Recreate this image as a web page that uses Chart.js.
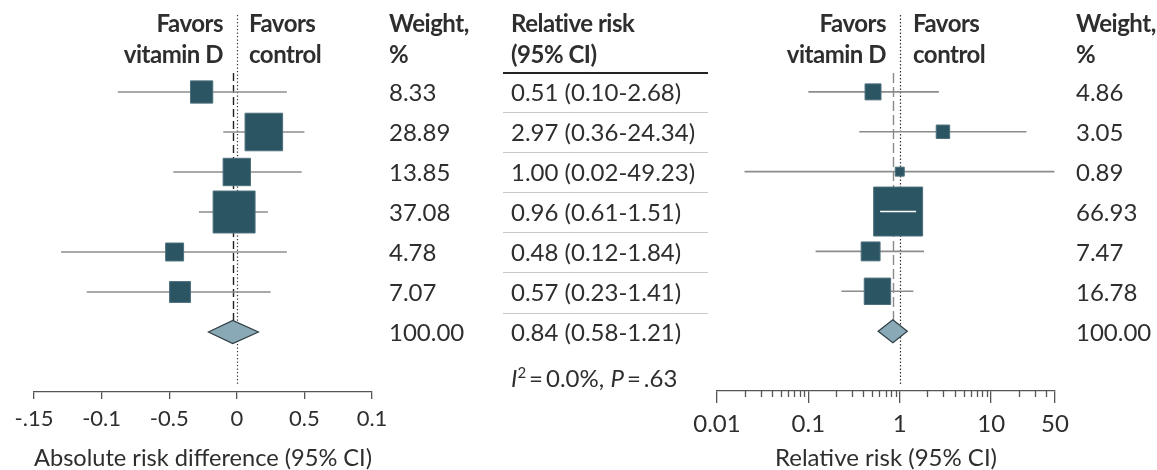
<!DOCTYPE html>
<html>
<head>
<meta charset="utf-8">
<script src="https://cdn.jsdelivr.net/npm/chart.js@4.4.1/dist/chart.umd.min.js"></script>
<style>
  body { margin: 0; background: #fff; }
  #wrap { position: relative; width: 1157px; height: 470px; overflow: hidden; font-family: Lato, sans-serif; color: #2e2e2e; }
  .t { position: absolute; white-space: nowrap; font-size: 24px; line-height: 31px; }
  .b { font-weight: 700; letter-spacing: -0.5px; }
  .rule { position: absolute; height: 0; }
  canvas { position: absolute; top: 0; }
</style>
</head>
<body>
<div id="wrap">
  <canvas id="ardChart" width="400" height="470" style="left:0"></canvas>
  <canvas id="rrChart" width="467" height="470" style="left:690px"></canvas>
</div>
<script>
const FONT = 'Lato, sans-serif';

// rows of the forest plot (6 trials, then the pooled estimate)
const rows = [1, 2, 3, 4, 5, 6];
const pooledRow = 7;

// left panel: absolute risk difference
const ardEst  = [-0.026, 0.020, 0.000, -0.002, -0.046, -0.042];
const ardLow  = [-0.088, -0.010, -0.047, -0.028, -0.130, -0.111];
const ardHigh = [0.037, 0.050, 0.048, 0.023, 0.037, 0.025];
const ardPooled = [-0.003, -0.021, 0.016];
const ardWeights = [8.33, 28.89, 13.85, 37.08, 4.78, 7.07];
const ardTickValues = [-0.15, -0.1, -0.05, 0, 0.05, 0.1];
const ardTickLabels = ['-.15', '-0.1', '-0.5', '0', '0.5', '0.1'];

// right panel: relative risk
const rrEst  = [0.51, 2.97, 1.00, 0.96, 0.48, 0.57];
const rrLow  = [0.10, 0.36, 0.02, 0.61, 0.12, 0.23];
const rrHigh = [2.68, 24.34, 49.23, 1.51, 1.84, 1.41];
const rrPooled = [0.84, 0.58, 1.21];
const rrWeights = [4.86, 3.05, 0.89, 66.93, 7.47, 16.78];
const rrTickValues = [0.01, 0.1, 1, 10, 50];
const rrTickLabels = ['0.01', '0.1', '1', '10', '50'];
const rrMinorTicks = [0.02, 0.03, 0.04, 0.05, 0.06, 0.07, 0.08, 0.09,
                      0.2, 0.3, 0.4, 0.5, 0.6, 0.7, 0.8, 0.9,
                      2, 3, 4, 5, 6, 7, 8, 9, 20, 30, 40];
const heterogeneity = { i2: '0.0%', p: '.63' };

// --- text (html) ---
const wrap = document.getElementById('wrap');
const ROW_Y = r => 101 + 40 * (r - 1);   // text baseline of a row

function addText(html, x, baseline, opts = {}) {
  const el = document.createElement('div');
  el.className = 't' + (opts.bold ? ' b' : '');
  el.innerHTML = html;
  el.style.top = (baseline - 24.8) + 'px';
  if (opts.right) el.style.right = (1157 - x) + 'px';
  else el.style.left = x + 'px';
  wrap.appendChild(el);
}
function addRule(x1, x2, y, w, color) {
  const el = document.createElement('div');
  el.className = 'rule';
  el.style.left = x1 + 'px';
  el.style.width = (x2 - x1) + 'px';
  el.style.top = (y - w / 2) + 'px';
  el.style.borderTop = w + 'px solid ' + color;
  wrap.appendChild(el);
}

// headers
addText('Favors', 223, 32, { bold: true, right: true });
addText('vitamin D', 223, 63, { bold: true, right: true });
addText('Favors', 249, 32, { bold: true });
addText('control', 249, 63, { bold: true });
addText('Weight,', 389, 32, { bold: true });
addText('%', 389, 63, { bold: true });
addText('Relative risk', 511, 32, { bold: true });
addText('(95% CI)', 511, 63, { bold: true });
addText('Favors', 886, 32, { bold: true, right: true });
addText('vitamin D', 886, 63, { bold: true, right: true });
addText('Favors', 913, 32, { bold: true });
addText('control', 913, 63, { bold: true });
addText('Weight,', 1076, 32, { bold: true });
addText('%', 1076, 63, { bold: true });

// weight columns and relative risk table
rows.forEach((r, i) => {
  addText(ardWeights[i].toFixed(2), 389, ROW_Y(r));
  addText(rrWeights[i].toFixed(2), 1076, ROW_Y(r));
  addText(`${rrEst[i].toFixed(2)} (${rrLow[i].toFixed(2)}-${rrHigh[i].toFixed(2)})`, 511, ROW_Y(r));
  addRule(503, 708, 113 + 40 * i + (i > 4 ? 1 : 0), 1.5, '#c8c8c8');
});
addText('100.00', 389, ROW_Y(pooledRow));
addText('100.00', 1076, ROW_Y(pooledRow));
addText(`${rrPooled[0].toFixed(2)} (${rrPooled[1].toFixed(2)}-${rrPooled[2].toFixed(2)})`, 511, ROW_Y(pooledRow));
addText(`<i>I</i><sup style="font-size:15px;vertical-align:9px;line-height:0">2</sup>&#8201;=&#8201;${heterogeneity.i2}, <i>P</i>&#8201;=&#8201;${heterogeneity.p}`, 511, 387);
addRule(503, 708, 73, 2, '#222');

// --- forest plot drawing helper ---
const forestPlugin = {
  id: 'forest',
  beforeDatasetsDraw(chart, args, o) {
    const { ctx, scales: { x, y } } = chart;
    ctx.save();
    // line of no effect (dotted)
    const xr = Math.round(x.getPixelForValue(o.ref)) + 0.5;
    ctx.strokeStyle = '#333';
    ctx.lineWidth = 1.2;
    ctx.setLineDash([1.3, 2.2]);
    ctx.beginPath();
    ctx.moveTo(xr, y.getPixelForValue(-0.925));
    ctx.lineTo(xr, y.getPixelForValue(8.35));
    ctx.stroke();
    // pooled estimate (dashed)
    const xp = Math.round(x.getPixelForValue(o.pooled[0])) + 0.5;
    ctx.strokeStyle = o.dashColor;
    ctx.lineWidth = 1.4;
    ctx.setLineDash(o.dash);
    ctx.beginPath();
    ctx.moveTo(xp, y.getPixelForValue(0.525));
    ctx.lineTo(xp, y.getPixelForValue(pooledRow) - 11);
    ctx.stroke();
    ctx.restore();
  },
  afterDatasetsDraw(chart, args, o) {
    const { ctx, scales: { x, y } } = chart;
    ctx.save();
    // CI fully hidden by its own box: draw it in white on top
    const meta = chart.getDatasetMeta(0);
    meta.data.forEach((pt, i) => {
      const half = pt.options.radius * Math.SQRT1_2;
      const lo = x.getPixelForValue(o.low[i]);
      const hi = x.getPixelForValue(o.high[i]);
      if (lo > pt.x - half && hi < pt.x + half) {
        ctx.strokeStyle = '#fff';
        ctx.lineWidth = 1.5;
        ctx.beginPath();
        ctx.moveTo(lo, pt.y);
        ctx.lineTo(hi, pt.y);
        ctx.stroke();
      }
    });
    // pooled diamond
    const cy = y.getPixelForValue(pooledRow);
    const [e, l, h] = o.pooled.map(v => x.getPixelForValue(v));
    ctx.beginPath();
    ctx.moveTo(l, cy);
    ctx.lineTo(e, cy - 11.5);
    ctx.lineTo(h, cy);
    ctx.lineTo(e, cy + 11.5);
    ctx.closePath();
    ctx.fillStyle = '#88a9b5';
    ctx.fill();
    ctx.strokeStyle = '#2f3d43';
    ctx.lineWidth = 1.2;
    ctx.stroke();
    ctx.restore();
  },
  afterDraw(chart, args, o) {
    if (!o.minor) return;
    const { ctx, scales: { x } } = chart;
    ctx.save();
    ctx.strokeStyle = '#555';
    ctx.lineWidth = 1.3;
    o.minor.forEach(v => {
      const px = Math.round(x.getPixelForValue(v)) + 0.5;
      ctx.beginPath();
      ctx.moveTo(px, x.top);
      ctx.lineTo(px, x.top + 6);
      ctx.stroke();
    });
    ctx.restore();
  }
};

function forestChart(id, cfg) {
  const boxes = {
    data: cfg.est.map((v, i) => ({ x: v, y: rows[i] })),
    pointStyle: 'rect',
    pointRadius: cfg.weights.map(w => (cfg.scaleA * Math.sqrt(w) + cfg.scaleB) / Math.SQRT2),
    backgroundColor: '#2c5563',
    borderColor: '#4d707d',
    borderWidth: 1,
    order: 1
  };
  const ciLines = rows.map((r, i) => ({
    data: [{ x: cfg.low[i], y: r }, { x: cfg.high[i], y: r }],
    showLine: true,
    pointRadius: 0,
    borderColor: '#8c8c8c',
    borderWidth: 1.6,
    order: 2
  }));
  return new Chart(document.getElementById(id), {
    type: 'scatter',
    data: { datasets: [boxes, ...ciLines] },
    options: {
      responsive: false,
      animation: false,
      layout: { padding: cfg.padding, autoPadding: false },
      plugins: {
        legend: { display: false },
        tooltip: { enabled: false },
        forest: { ref: cfg.ref, pooled: cfg.pooled, low: cfg.low, high: cfg.high,
                  dashColor: cfg.dashColor, dash: cfg.dash, minor: cfg.minor }
      },
      scales: {
        x: {
          type: cfg.type,
          min: cfg.tickValues[0],
          max: cfg.tickValues[cfg.tickValues.length - 1],
          afterBuildTicks: s => { s.ticks = cfg.tickValues.map(v => ({ value: v })); },
          afterFit: s => { s.height = cfg.axisHeight; s.paddingLeft = 0; s.paddingRight = 0; },
          grid: { drawOnChartArea: false, tickLength: cfg.tickLength, color: '#555', lineWidth: 1.3 },
          border: { color: '#555', width: 1.3 },
          ticks: {
            autoSkip: false, maxRotation: 0, padding: cfg.tickPad, color: '#2e2e2e',
            font: { family: FONT, size: cfg.tickSize },
            callback: (v, i) => cfg.tickLabels[i]
          },
          title: {
            display: true, text: cfg.title, color: '#2e2e2e',
            font: { family: FONT, size: 24, lineHeight: 1 }, padding: { top: 0, bottom: 0 }
          }
        },
        y: { type: 'linear', display: false, min: 0, max: 8.5, reverse: true }
      }
    },
    plugins: [forestPlugin]
  });
}

forestChart('ardChart', {
  type: 'linear', est: ardEst, low: ardLow, high: ardHigh, pooled: ardPooled, weights: ardWeights,
  tickValues: ardTickValues, tickLabels: ardTickLabels, ref: 0,
  title: 'Absolute risk difference (95% CI)',
  scaleA: 6.15, scaleB: 4.5, dashColor: '#222', dash: [8, 4],
  tickLength: 7, tickPad: 7, tickSize: 22, axisHeight: 78,
  padding: { left: 34, right: 28, top: 52, bottom: 0 }
});

forestChart('rrChart', {
  type: 'logarithmic', est: rrEst, low: rrLow, high: rrHigh, pooled: rrPooled, weights: rrWeights,
  tickValues: rrTickValues, tickLabels: rrTickLabels, ref: 1, minor: rrMinorTicks,
  title: 'Relative risk (95% CI)',
  scaleA: 5.52, scaleB: 3.8, dashColor: '#8a8a8a', dash: [10, 4],
  tickLength: 12, tickPad: 7, tickSize: 24, axisHeight: 79,
  padding: { left: 27, right: 102, top: 52, bottom: 0 }
});
</script>
</body>
</html>
